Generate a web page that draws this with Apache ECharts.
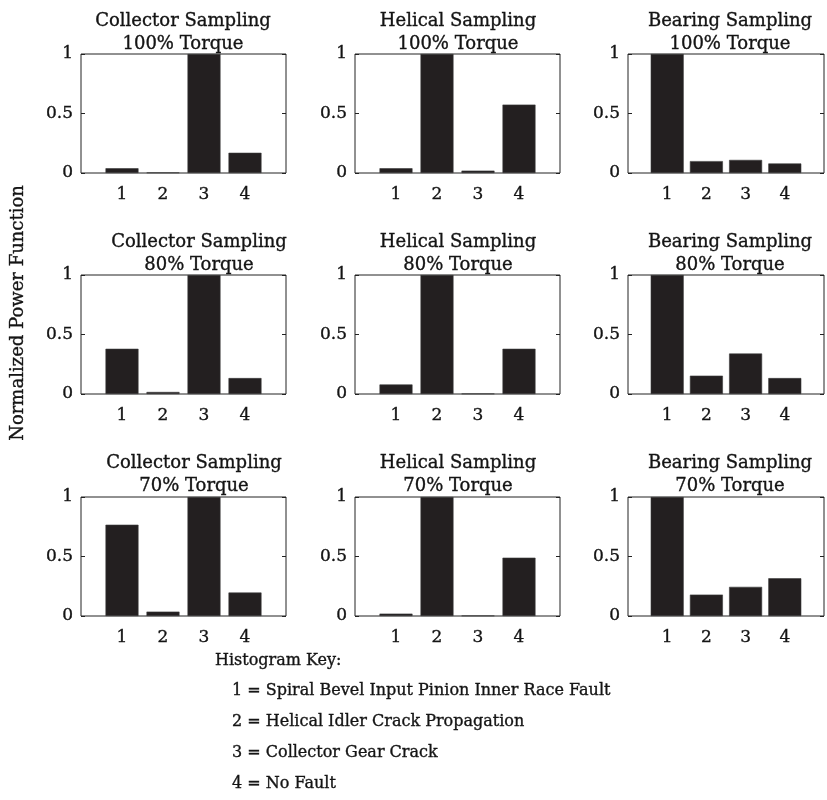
<!DOCTYPE html>
<html>
<head>
<meta charset="utf-8">
<script src="https://cdn.jsdelivr.net/npm/echarts@6/dist/echarts.min.js"></script>
<style>html,body{margin:0;padding:0;background:#fff}#c{width:827px;height:800px}</style>
</head>
<body>
<div id="c"></div>
<script>
// ---- data ----
const categories = [1, 2, 3, 4];
const samplings = ['Collector Sampling', 'Helical Sampling', 'Bearing Sampling'];
const torques = ['100% Torque', '80% Torque', '70% Torque'];
const collector100 = [0.04, 0.004, 1, 0.17];
const helical100 = [0.04, 1, 0.02, 0.575];
const bearing100 = [1, 0.10, 0.11, 0.08];
const collector80 = [0.38, 0.017, 1, 0.134];
const helical80 = [0.08, 1, 0.003, 0.38];
const bearing80 = [1, 0.154, 0.34, 0.134];
const collector70 = [0.767, 0.037, 1, 0.197];
const helical70 = [0.02, 1, 0.003, 0.49];
const bearing70 = [1, 0.18, 0.245, 0.317];
const yTicks = [0, 0.5, 1];
const yAxisTitle = 'Normalized Power Function';
const keyTitle = 'Histogram Key:';
const keyLines = [
  '1 = Spiral Bevel Input Pinion Inner Race Fault',
  '2 = Helical Idler Crack Propagation',
  '3 = Collector Gear Crack',
  '4 = No Fault'
];
const panelValues = [
  [collector100, helical100, bearing100],
  [collector80, helical80, bearing80],
  [collector70, helical70, bearing70]
];

// ---- layout ----
const FONT = 'DejaVu Serif';
const TXT = '#141414';
const colLeft = [81, 355, 628];
const rowTop = [54, 275, 497];
const gw = 205, gh = 119;
const titleX = [[178, 453, 725], [194, 453, 725], [189, 453, 725]];
const titleTop = [5, 226, 447];
const bold = {textBorderColor: TXT, textBorderWidth: 0.35};

const grids = [], xAxes = [], yAxes = [], series = [], titles = [];
let gi = 0;
for (let r = 0; r < 3; r++) {
  for (let c = 0; c < 3; c++) {
    grids.push({left: colLeft[c], top: rowTop[r], width: gw, height: gh,
      show: true, borderColor: '#222', borderWidth: 1, backgroundColor: 'transparent'});
    xAxes.push({type: 'value', gridIndex: gi, min: 0, max: 5, interval: 1,
      axisLine: {show: false}, axisTick: {show: false}, splitLine: {show: false},
      axisLabel: Object.assign({margin: 13, color: TXT, fontFamily: FONT, fontSize: 17,
        formatter: v => categories.indexOf(v) >= 0 ? String(v) : ''}, bold)});
    yAxes.push({type: 'value', gridIndex: gi, min: 0, max: 1, interval: 0.5,
      axisLine: {show: false}, splitLine: {show: false},
      axisTick: {show: true, inside: true, length: 4, lineStyle: {color: '#222'}},
      axisLabel: Object.assign({margin: 8, color: TXT, fontFamily: FONT, fontSize: 17,
        padding: [8, 0, 0, 0],
        formatter: v => yTicks.indexOf(v) >= 0 ? String(v) : ''}, bold)});
    yAxes.push({type: 'value', gridIndex: gi, position: 'right', min: 0, max: 1, interval: 0.5,
      axisLine: {show: false}, splitLine: {show: false}, axisLabel: {show: false},
      axisTick: {show: true, inside: true, length: 4, lineStyle: {color: '#222'}}});
    series.push({type: 'bar', xAxisIndex: gi, yAxisIndex: gi * 2, barWidth: 33,
      itemStyle: {color: '#231f20', borderColor: '#3a3a3a', borderWidth: 0.6},
      silent: true, animation: false,
      data: categories.map((k, i) => [k, panelValues[r][c][i]])});
    titles.push({text: samplings[c] + '\n' + torques[r], left: titleX[r][c], top: titleTop[r],
      textAlign: 'center',
      textStyle: Object.assign({fontFamily: FONT, fontSize: 18, fontWeight: 'normal', color: TXT, lineHeight: 23}, bold)});
    gi++;
  }
}

const gStyle = (t, size, align) => ({text: t, font: size + 'px "' + FONT + '"', fill: TXT,
  stroke: TXT, lineWidth: 0.35, align: align, verticalAlign: 'middle'});
const graphics = [
  {type: 'text', x: 18, y: 313, rotation: Math.PI / 2, style: gStyle(yAxisTitle, 18, 'center')},
  {type: 'text', x: 215, y: 661, style: gStyle(keyTitle, 16, 'left')}
];
keyLines.forEach((t, i) => {
  graphics.push({type: 'text', x: 232, y: 691 + i * 31, style: gStyle(t, 16, 'left')});
});

const chart = echarts.init(document.getElementById('c'), null, {renderer: 'canvas'});
chart.setOption({
  animation: false,
  backgroundColor: '#fff',
  title: titles,
  grid: grids,
  xAxis: xAxes,
  yAxis: yAxes,
  series: series,
  graphic: graphics
});
</script>
</body>
</html>
